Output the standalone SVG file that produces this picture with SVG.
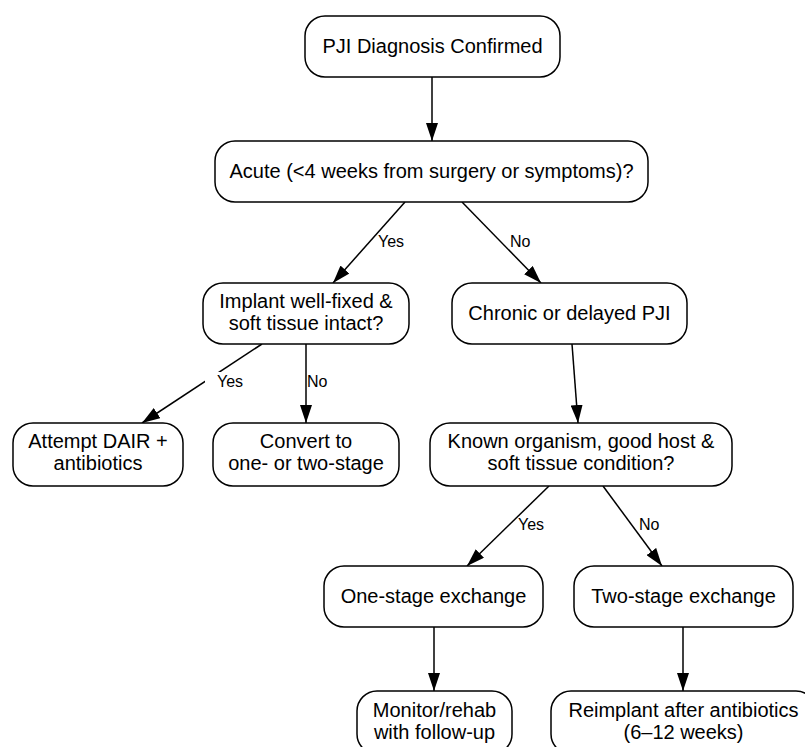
<svg xmlns="http://www.w3.org/2000/svg" width="805" height="747" viewBox="0 0 805 747">
<defs>
<marker id="ah" markerUnits="userSpaceOnUse" markerWidth="18" markerHeight="12" refX="18" refY="6" orient="auto">
<path d="M0,0 L18,6 L0,12 z" fill="#000"/>
</marker>
<style>
.box{fill:#fff;stroke:#000;stroke-width:1.5}
.t{font-family:"Liberation Sans",Arial,sans-serif;font-size:20px;fill:#000;text-anchor:middle}
.l{font-family:"Liberation Sans",Arial,sans-serif;font-size:16px;fill:#000}
.e{stroke:#000;stroke-width:1.5;fill:none;marker-end:url(#ah)}
</style>
</defs>
<rect width="805" height="747" fill="#fff"/>
<g id="connectors">
<line class="e" x1="432" y1="77" x2="432" y2="141"/>
<line class="e" x1="405" y1="202" x2="333" y2="283"/>
<line class="e" x1="462" y1="202" x2="541" y2="283"/>
<line class="e" x1="262" y1="344" x2="142" y2="423"/>
<line class="e" x1="306" y1="344" x2="306" y2="423"/>
<line class="e" x1="572" y1="344" x2="578" y2="423"/>
<line class="e" x1="549" y1="486" x2="467" y2="566"/>
<line class="e" x1="603" y1="486" x2="662" y2="566"/>
<line class="e" x1="434" y1="627" x2="434" y2="691"/>
<line class="e" x1="683" y1="627" x2="683" y2="691"/>
<text class="l" x="378" y="247">Yes</text>
<text class="l" x="510" y="247">No</text>
<rect x="205" y="372" width="40" height="19" fill="#fff"/>
<text class="l" x="217" y="387">Yes</text>
<text class="l" x="307" y="387">No</text>
<text class="l" x="518" y="530">Yes</text>
<text class="l" x="639" y="530">No</text>
</g>
<g id="n1"><rect class="box" x="305" y="16" width="255" height="61" rx="20"/><text class="t" x="432.5" y="53">PJI Diagnosis Confirmed</text></g>
<g id="n2"><rect class="box" x="215" y="141" width="433" height="61" rx="20"/><text class="t" x="431.5" y="178">Acute (&lt;4 weeks from surgery or symptoms)?</text></g>
<g id="n3"><rect class="box" x="203" y="283" width="206" height="61" rx="20"/><text class="t" x="306" y="308">Implant well-fixed &amp;</text><text class="t" x="306" y="330">soft tissue intact?</text></g>
<g id="n4"><rect class="box" x="452" y="283" width="235" height="61" rx="20"/><text class="t" x="569.5" y="320">Chronic or delayed PJI</text></g>
<g id="n5"><rect class="box" x="13" y="423" width="170" height="63" rx="20"/><text class="t" x="98" y="448">Attempt DAIR +</text><text class="t" x="98" y="470">antibiotics</text></g>
<g id="n6"><rect class="box" x="213" y="423" width="186" height="63" rx="20"/><text class="t" x="306" y="448">Convert to</text><text class="t" x="306" y="470">one- or two-stage</text></g>
<g id="n7"><rect class="box" x="430" y="423" width="302" height="63" rx="20"/><text class="t" x="581" y="448">Known organism, good host &amp;</text><text class="t" x="581" y="470">soft tissue condition?</text></g>
<g id="n8"><rect class="box" x="324" y="566" width="219" height="61" rx="20"/><text class="t" x="433.5" y="603">One-stage exchange</text></g>
<g id="n9"><rect class="box" x="574" y="566" width="219" height="61" rx="20"/><text class="t" x="683.5" y="603">Two-stage exchange</text></g>
<g id="n10"><rect class="box" x="357" y="691" width="155" height="63" rx="20"/><text class="t" x="434.5" y="717">Monitor/rehab</text><text class="t" x="434.5" y="739">with follow-up</text></g>
<g id="n11"><rect class="box" x="551" y="691" width="265" height="63" rx="20"/><text class="t" x="683.5" y="717">Reimplant after antibiotics</text><text class="t" x="683.5" y="739">(6–12 weeks)</text></g>
</svg>
